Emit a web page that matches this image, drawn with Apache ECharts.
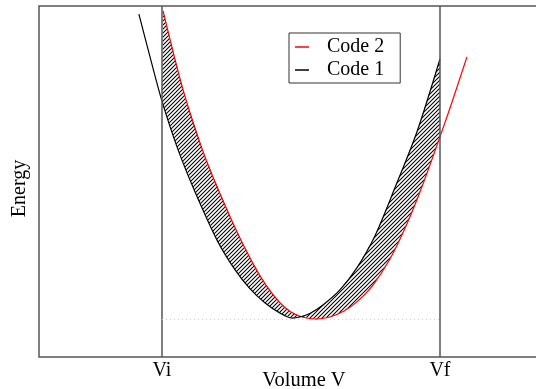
<!DOCTYPE html>
<html>
<head>
<meta charset="utf-8">
<script src="https://cdn.jsdelivr.net/npm/echarts@6/dist/echarts.min.js"></script>
<style>
  html, body { margin: 0; padding: 0; background: #fff; }
  #chart { width: 536px; height: 389px; }
</style>
</head>
<body>
<div id="chart"></div>
<script>
// volume / energy readings (Vi = 1, Vf = 2, energy in arbitrary units)
const volumeCode1 = [0.917, 0.957, 1.000, 1.058, 1.119, 1.198, 1.263, 1.317, 1.371, 1.425, 1.468, 1.496, 1.532, 1.579, 1.640, 1.701, 1.766, 1.838, 1.917, 2.000]
const energyCode1 = [0.977, 0.855, 0.729, 0.590, 0.470, 0.333, 0.248, 0.194, 0.154, 0.125, 0.111, 0.114, 0.124, 0.148, 0.191, 0.254, 0.345, 0.482, 0.641, 0.849]
const volumeCode2 = [1.004, 1.076, 1.155, 1.255, 1.324, 1.374, 1.425, 1.464, 1.504, 1.554, 1.604, 1.655, 1.701, 1.759, 1.820, 1.881, 1.939, 2.000, 2.047, 2.097]
const energyCode2 = [0.986, 0.761, 0.570, 0.382, 0.271, 0.205, 0.154, 0.128, 0.114, 0.108, 0.114, 0.131, 0.157, 0.205, 0.279, 0.379, 0.493, 0.627, 0.735, 0.855]
const volumeTicks = [1, 2]
const tickLabels = ['Vi', 'Vf']
const energyMin = 0.108

const font = 'Liberation Serif'
const code1 = volumeCode1.map((v, i) => [v, energyCode1[i]])
const code2 = volumeCode2.map((v, i) => [v, energyCode2[i]])

// diagonal hatch tile
const hatch = document.createElement('canvas')
hatch.width = 4
hatch.height = 4
const g = hatch.getContext('2d')
g.strokeStyle = '#000'
g.lineWidth = 1.05
g.beginPath()
g.moveTo(0, 4); g.lineTo(4, 0)
g.moveTo(-1, 1); g.lineTo(1, -1)
g.moveTo(3, 5); g.lineTo(5, 3)
g.stroke()

const myChart = echarts.init(document.getElementById('chart'))
const option = {
  animation: false,
  grid: { left: 39, top: 6, right: -6, bottom: 32, outerBoundsMode: 'none', show: true, borderColor: '#555', borderWidth: 1.5 },
  legend: {
    data: ['Code 2', 'Code 1'],
    orient: 'vertical',
    left: 289,
    top: 33,
    padding: [4, 16, 3, 6],
    itemGap: 3,
    itemWidth: 14,
    itemHeight: 1.5,
    icon: 'rect',
    borderColor: '#333',
    borderWidth: 1,
    textStyle: { fontFamily: font, fontSize: 20, color: '#000', padding: [0, 0, 0, 13] }
  },
  xAxis: {
    type: 'value',
    min: 0.5576,
    max: 2.367,
    name: 'Volume V',
    nameLocation: 'middle',
    nameGap: 13,
    nameMoveOverlap: false,
    nameTextStyle: { fontFamily: font, fontSize: 20.5, color: '#000', verticalAlign: 'top', padding: [0, 0, 0, 27] },
    axisLine: { show: false },
    axisTick: { show: false },
    splitLine: { show: false },
    axisLabel: {
      customValues: volumeTicks,
      formatter: (v) => tickLabels[volumeTicks.indexOf(v)],
      fontFamily: font,
      fontSize: 20,
      color: '#000',
      margin: 4
    }
  },
  yAxis: {
    type: 'value',
    min: 0,
    max: 1,
    name: 'Energy',
    nameLocation: 'middle',
    nameGap: 9,
    nameMoveOverlap: false,
    nameRotate: 90,
    nameTextStyle: { fontFamily: font, fontSize: 20, color: '#000', padding: [0, 14, 0, 0] },
    axisLine: { show: false },
    axisTick: { show: false },
    axisLabel: { show: false },
    splitLine: { show: false }
  },
  series: [
    {
      type: 'custom',
      silent: true,
      z: 1,
      data: [[1.5, 0.5]],
      renderItem(params, api) {
        const upper = code1.filter(p => p[0] >= 1 && p[0] <= 2)
        const lower = code2.filter(p => p[0] >= 1 && p[0] <= 2).reverse()
        const points = upper.concat(lower).map(p => api.coord(p))
        return { type: 'polygon', shape: { points }, style: { fill: { image: hatch, repeat: 'repeat' }, stroke: null } }
      }
    },
    {
      name: 'Code 2',
      type: 'line',
      data: code2,
      smooth: 0.3,
      showSymbol: false,
      z: 3,
      color: '#ff0000',
      lineStyle: { color: '#ff0000', width: 1.2 }
    },
    {
      name: 'Code 1',
      type: 'line',
      data: code1,
      smooth: 0.3,
      showSymbol: false,
      z: 3,
      color: '#000',
      lineStyle: { color: '#000', width: 1.2 },
      markLine: {
        silent: true,
        symbol: 'none',
        label: { show: false },
        data: [
          { xAxis: volumeTicks[0], lineStyle: { color: '#555', type: 'solid', width: 1.5 } },
          { xAxis: volumeTicks[1], lineStyle: { color: '#555', type: 'solid', width: 1.5 } },
          [
            { coord: [volumeTicks[0], energyMin], lineStyle: { color: '#ccc', type: [1, 3], width: 1 } },
            { coord: [volumeTicks[1], energyMin] }
          ]
        ]
      }
    }
  ]
}
myChart.setOption(option)
</script>
</body>
</html>
